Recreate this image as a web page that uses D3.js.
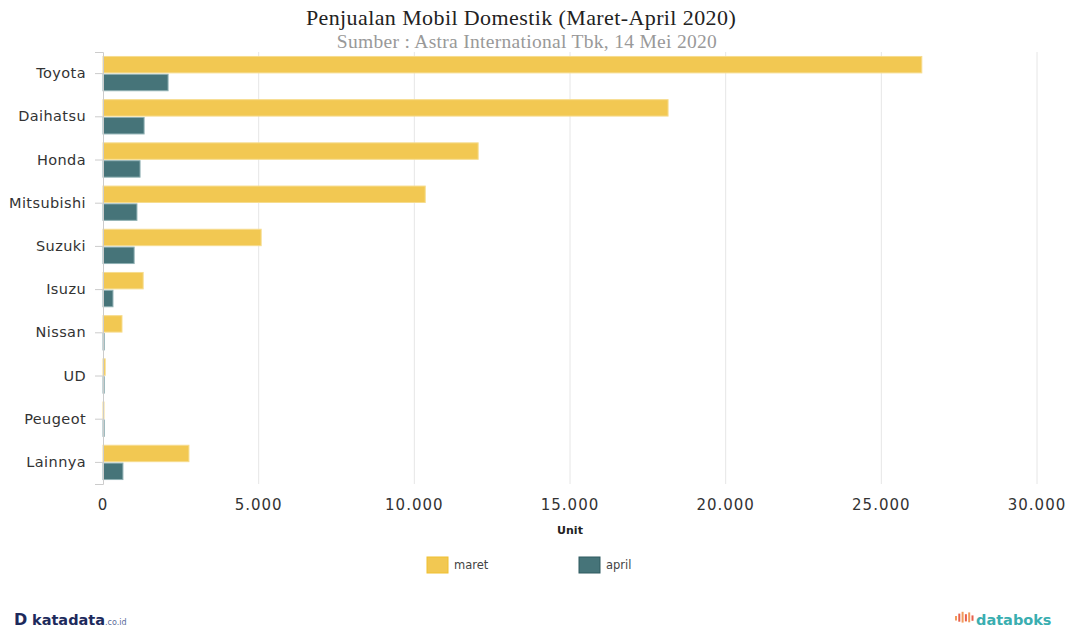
<!DOCTYPE html>
<html>
<head>
<meta charset="utf-8">
<script src="https://cdn.jsdelivr.net/npm/d3@7"></script>
<style>
    body { margin: 0; background: #fff; }
    svg text { font-family: "DejaVu Sans", Verdana, sans-serif; }
</style>
</head>
<body>
<svg id="chart" width="1070" height="630"></svg>
<script>
// Data
const brands = ['Toyota', 'Daihatsu', 'Honda', 'Mitsubishi', 'Suzuki', 'Isuzu', 'Nissan', 'UD', 'Peugeot', 'Lainnya'];
const maret = [26300, 18150, 12050, 10350, 5080, 1290, 610, 70, 15, 2760];
const april = [2090, 1320, 1190, 1090, 1000, 320, 40, 40, 40, 640];
const seriesNames = ['maret', 'april'];
const xTicks = [0, 5000, 10000, 15000, 20000, 25000, 30000];

const colors = { maret: '#f2c852', april: '#467479' };
const strokes = { maret: '#f6dc8e', april: '#8fb0b3' };

const svg = d3.select('#chart');
const margin = { left: 103, right: 33, top: 52, bottom: 146 };
const W = 1070, H = 630;

const x = d3.scaleLinear().domain([0, 30000]).range([margin.left, W - margin.right]);
const y = d3.scaleBand().domain(brands).range([margin.top, H - margin.bottom]).paddingInner(0.14).paddingOuter(0.07);
const ySub = d3.scaleBand().domain(seriesNames).range([0, y.bandwidth()]).padding(0.08);

// Title
svg.append('text')
    .attr('x', 521).attr('y', 25)
    .attr('text-anchor', 'middle')
    .style('font-family', '"Liberation Serif", "Times New Roman", serif')
    .style('font-size', '22px')
    .style('letter-spacing', '0.4px')
    .attr('fill', '#222')
    .text('Penjualan Mobil Domestik (Maret-April 2020)');

svg.append('text')
    .attr('x', 527).attr('y', 48)
    .attr('text-anchor', 'middle')
    .style('font-family', '"Liberation Serif", "Times New Roman", serif')
    .style('font-size', '19.5px')
    .style('letter-spacing', '0.3px')
    .attr('fill', '#999')
    .text('Sumber : Astra International Tbk, 14 Mei 2020');

// Gridlines
svg.append('g')
    .selectAll('line')
    .data(xTicks.slice(1))
    .enter()
    .append('line')
    .attr('x1', d => x(d)).attr('x2', d => x(d))
    .attr('y1', margin.top).attr('y2', H - margin.bottom)
    .attr('stroke', '#e6e6e6')
    .attr('stroke-width', 1);

// Bars
const group = svg.append('g')
    .selectAll('g')
    .data(brands)
    .enter()
    .append('g')
    .attr('transform', d => `translate(0,${y(d)})`);

group.selectAll('rect')
    .data((d, i) => [
        { key: 'maret', value: maret[i] },
        { key: 'april', value: april[i] }
    ])
    .enter()
    .append('rect')
    .attr('x', x(0))
    .attr('y', d => ySub(d.key))
    .attr('width', d => Math.max(1, x(d.value) - x(0)))
    .attr('height', ySub.bandwidth())
    .attr('fill', d => colors[d.key])
    .attr('stroke', d => strokes[d.key])
    .attr('stroke-width', 1);

// Y axis
const yAxis = svg.append('g')
    .attr('transform', `translate(${x(0)},0)`)
    .call(d3.axisLeft(y).tickSize(8).tickPadding(9));
yAxis.select('.domain').attr('stroke', '#ccc');
yAxis.selectAll('.tick line').attr('stroke', '#ccc');
yAxis.selectAll('.tick text')
    .style('font-size', '14.5px')
    .style('letter-spacing', '0.4px')
    .attr('fill', '#333');

// X axis labels
svg.append('g')
    .selectAll('text')
    .data(xTicks)
    .enter()
    .append('text')
    .attr('x', d => x(d))
    .attr('y', 510)
    .attr('text-anchor', 'middle')
    .style('font-size', '15px')
    .style('letter-spacing', '1px')
    .attr('fill', '#333')
    .text(d => d3.format(',')(d).replace(/,/g, '.'));

svg.append('text')
    .attr('x', (x(0) + x(30000)) / 2)
    .attr('y', 534)
    .attr('text-anchor', 'middle')
    .style('font-size', '11px')
    .style('font-weight', 'bold')
    .attr('fill', '#222')
    .text('Unit');

// Legend
const legend = svg.append('g')
    .selectAll('g')
    .data(seriesNames)
    .enter()
    .append('g')
    .attr('transform', (d, i) => `translate(${427 + i * 152},557)`);

legend.append('rect')
    .attr('width', 21).attr('height', 16)
    .attr('fill', d => colors[d])
    .attr('stroke', d => d === 'maret' ? '#f0c030' : '#2f5a60');

legend.append('text')
    .attr('x', 27).attr('y', 12)
    .style('font-size', '11.5px')
    .attr('fill', '#444')
    .text(d => d);

// Footer logos
svg.append('text')
    .attr('x', 14).attr('y', 625)
    .style('font-size', '16px').style('font-weight', 'bold')
    .attr('fill', '#1d2a5c')
    .text('D');

const kata = svg.append('text')
    .attr('x', 32).attr('y', 625);
kata.append('tspan')
    .style('font-size', '14.5px').style('font-weight', 'bold')
    .attr('fill', '#1d2a5c')
    .text('katadata');
kata.append('tspan')
    .style('font-size', '8px')
    .attr('fill', '#5b6c9a')
    .text('.co.id');

const icon = [5, 9, 12, 8, 11, 6];
svg.append('g')
    .selectAll('rect')
    .data(icon)
    .enter()
    .append('rect')
    .attr('x', (d, i) => 955 + i * 3.3)
    .attr('y', d => 619 - d * 0.6)
    .attr('width', 2)
    .attr('height', d => d * 0.9)
    .attr('fill', (d, i) => i % 2 ? '#e8604c' : '#f29a5a');

svg.append('text')
    .attr('x', 976).attr('y', 625)
    .style('font-size', '14.5px').style('font-weight', 'bold')
    .attr('fill', '#3aaeb0')
    .text('databoks');
</script>
</body>
</html>
